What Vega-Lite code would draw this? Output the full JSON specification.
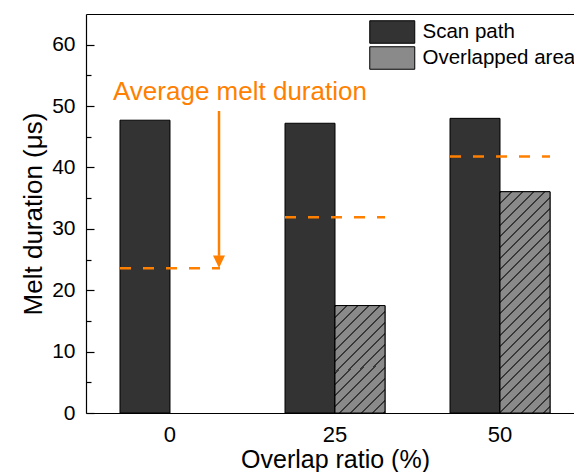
{
  "$schema": "https://vega.github.io/schema/vega-lite/v6.json",
  "width": 488,
  "height": 399,
  "autosize": {"type": "none"},
  "padding": {"left": 86, "top": 14, "right": 0, "bottom": 59},
  "background": "white",
  "config": {
    "view": {"stroke": null},
    "font": "Liberation Sans",
    "axis": {"grid": false, "domainColor": "#000", "domainWidth": 1.2, "tickColor": "#000", "tickWidth": 1.2, "labelColor": "#000", "titleColor": "#000", "titleFontWeight": "normal", "labelFont": "Liberation Sans", "titleFont": "Liberation Sans"}
  },
  "datasets": {
    "bars": [
      {"ratio": "0", "series": "Scan path", "value": 47.7},
      {"ratio": "25", "series": "Scan path", "value": 47.2},
      {"ratio": "50", "series": "Scan path", "value": 48.0},
      {"ratio": "25", "series": "Overlapped area", "value": 17.5},
      {"ratio": "50", "series": "Overlapped area", "value": 36.05}
    ],
    "avg": [
      {"ratio": "0", "avg": 23.6},
      {"ratio": "25", "avg": 31.9},
      {"ratio": "50", "avg": 41.8}
    ],
    "annot": [
      {"ratio": "0", "from": 49.2, "to": 25.6, "tip": 24.7, "labelY": 52.3, "label": "Average melt duration"}
    ]
  },
  "resolve": {"axis": {"x": "independent", "y": "independent"}},
  "layer": [
    {
      "data": {"name": "bars"},
      "mark": {"type": "bar", "stroke": "#000", "strokeWidth": 1},
      "encoding": {
        "x": {"field": "ratio", "type": "ordinal", "scale": {"domain": ["0", "25", "50"], "range": [0, 498], "paddingInner": 0.39394, "paddingOuter": 0.20606},
              "axis": {"orient": "bottom", "title": "Overlap ratio (%)", "ticks": false, "labelAngle": 0, "labelFontSize": 22, "labelPadding": 11.5, "titleFontSize": 25, "titlePadding": 2}},
        "xOffset": {"field": "series", "type": "nominal", "scale": {"domain": ["Scan path", "Overlapped area"], "paddingInner": 0, "paddingOuter": 0}},
        "y": {"field": "value", "type": "quantitative", "title": "Melt duration (μs)", "scale": {"domain": [0, 65], "nice": false},
              "axis": {"orient": "left", "values": [0, 10, 20, 30, 40, 50, 60], "ticks": false, "grid": true, "gridColor": "#000", "gridWidth": 1.2, "gridOpacity": 1, "gridDash": [8, 1000], "labelPadding": 11, "labelFontSize": 21, "titleFontSize": 26, "titlePadding": 5}},
        "fill": {"field": "series", "type": "nominal", "scale": {"domain": ["Scan path", "Overlapped area"], "range": ["#333333", "#8a8a8a"]},
                 "legend": {"title": null, "orient": "none", "legendX": 283, "legendY": 6, "padding": 0, "symbolType": "M-1,-1H3V1H-1Z", "symbolSize": 506.25, "symbolStrokeColor": "#000", "symbolStrokeWidth": 1, "symbolOpacity": 1, "labelFont": "Liberation Sans", "labelFontSize": 20.5, "labelColor": "#000", "labelOffset": 29.5, "rowPadding": -2.5}}
      }
    },
    {
      "data": {"name": "bars"},
      "transform": [{"filter": "datum.series === 'Overlapped area' && datum.ratio === '25'"}],
      "mark": {"type": "bar", "stroke": "#000", "strokeWidth": 1, "fill": {"gradient": "linear", "x1": 0, "y1": 0, "x2": 0.5638, "y2": 1.2042, "stops": [
        {"offset": 0, "color": "#383838"}, {"offset": 0.0128, "color": "#383838"}, {"offset": 0.0128, "color": "#8a8a8a"}, {"offset": 0.0702, "color": "#8a8a8a"},
        {"offset": 0.0702, "color": "#383838"}, {"offset": 0.083, "color": "#383838"}, {"offset": 0.083, "color": "#8a8a8a"}, {"offset": 0.1404, "color": "#8a8a8a"},
        {"offset": 0.1404, "color": "#383838"}, {"offset": 0.1532, "color": "#383838"}, {"offset": 0.1532, "color": "#8a8a8a"}, {"offset": 0.2106, "color": "#8a8a8a"},
        {"offset": 0.2106, "color": "#383838"}, {"offset": 0.2234, "color": "#383838"}, {"offset": 0.2234, "color": "#8a8a8a"}, {"offset": 0.2808, "color": "#8a8a8a"},
        {"offset": 0.2808, "color": "#383838"}, {"offset": 0.2936, "color": "#383838"}, {"offset": 0.2936, "color": "#8a8a8a"}, {"offset": 0.351, "color": "#8a8a8a"},
        {"offset": 0.351, "color": "#383838"}, {"offset": 0.3638, "color": "#383838"}, {"offset": 0.3638, "color": "#8a8a8a"}, {"offset": 0.4212, "color": "#8a8a8a"},
        {"offset": 0.4212, "color": "#383838"}, {"offset": 0.434, "color": "#383838"}, {"offset": 0.434, "color": "#8a8a8a"}, {"offset": 0.4914, "color": "#8a8a8a"},
        {"offset": 0.4914, "color": "#383838"}, {"offset": 0.5042, "color": "#383838"}, {"offset": 0.5042, "color": "#8a8a8a"}, {"offset": 0.5616, "color": "#8a8a8a"},
        {"offset": 0.5616, "color": "#383838"}, {"offset": 0.5744, "color": "#383838"}, {"offset": 0.5744, "color": "#8a8a8a"}, {"offset": 0.6318, "color": "#8a8a8a"},
        {"offset": 0.6318, "color": "#383838"}, {"offset": 0.6446, "color": "#383838"}, {"offset": 0.6446, "color": "#8a8a8a"}, {"offset": 0.702, "color": "#8a8a8a"},
        {"offset": 0.702, "color": "#383838"}, {"offset": 0.7148, "color": "#383838"}, {"offset": 0.7148, "color": "#8a8a8a"}, {"offset": 0.7722, "color": "#8a8a8a"},
        {"offset": 0.7722, "color": "#383838"}, {"offset": 0.785, "color": "#383838"}, {"offset": 0.785, "color": "#8a8a8a"}, {"offset": 0.8424, "color": "#8a8a8a"},
        {"offset": 0.8424, "color": "#383838"}, {"offset": 0.8552, "color": "#383838"}, {"offset": 0.8552, "color": "#8a8a8a"}, {"offset": 0.9126, "color": "#8a8a8a"},
        {"offset": 0.9126, "color": "#383838"}, {"offset": 0.9254, "color": "#383838"}, {"offset": 0.9254, "color": "#8a8a8a"}, {"offset": 0.9828, "color": "#8a8a8a"},
        {"offset": 0.9828, "color": "#383838"}, {"offset": 0.9956, "color": "#383838"}, {"offset": 0.9956, "color": "#8a8a8a"}, {"offset": 1, "color": "#8a8a8a"}
      ]}},
      "encoding": {
        "x": {"field": "ratio", "type": "ordinal", "axis": null},
        "xOffset": {"field": "series", "type": "nominal"},
        "y": {"field": "value", "type": "quantitative", "axis": null}
      }
    },
    {
      "data": {"name": "bars"},
      "transform": [{"filter": "datum.series === 'Overlapped area' && datum.ratio === '50'"}],
      "mark": {"type": "bar", "stroke": "#000", "strokeWidth": 1, "fill": {"gradient": "linear", "x1": 0, "y1": 0, "x2": 0.2635, "y2": 1.1664, "stops": [
        {"offset": 0, "color": "#383838"}, {"offset": 0.0074, "color": "#383838"}, {"offset": 0.0074, "color": "#8a8a8a"}, {"offset": 0.0406, "color": "#8a8a8a"},
        {"offset": 0.0406, "color": "#383838"}, {"offset": 0.048, "color": "#383838"}, {"offset": 0.048, "color": "#8a8a8a"}, {"offset": 0.0811, "color": "#8a8a8a"},
        {"offset": 0.0811, "color": "#383838"}, {"offset": 0.0885, "color": "#383838"}, {"offset": 0.0885, "color": "#8a8a8a"}, {"offset": 0.1217, "color": "#8a8a8a"},
        {"offset": 0.1217, "color": "#383838"}, {"offset": 0.1291, "color": "#383838"}, {"offset": 0.1291, "color": "#8a8a8a"}, {"offset": 0.1622, "color": "#8a8a8a"},
        {"offset": 0.1622, "color": "#383838"}, {"offset": 0.1696, "color": "#383838"}, {"offset": 0.1696, "color": "#8a8a8a"}, {"offset": 0.2028, "color": "#8a8a8a"},
        {"offset": 0.2028, "color": "#383838"}, {"offset": 0.2102, "color": "#383838"}, {"offset": 0.2102, "color": "#8a8a8a"}, {"offset": 0.2433, "color": "#8a8a8a"},
        {"offset": 0.2433, "color": "#383838"}, {"offset": 0.2507, "color": "#383838"}, {"offset": 0.2507, "color": "#8a8a8a"}, {"offset": 0.2839, "color": "#8a8a8a"},
        {"offset": 0.2839, "color": "#383838"}, {"offset": 0.2913, "color": "#383838"}, {"offset": 0.2913, "color": "#8a8a8a"}, {"offset": 0.3244, "color": "#8a8a8a"},
        {"offset": 0.3244, "color": "#383838"}, {"offset": 0.3318, "color": "#383838"}, {"offset": 0.3318, "color": "#8a8a8a"}, {"offset": 0.365, "color": "#8a8a8a"},
        {"offset": 0.365, "color": "#383838"}, {"offset": 0.3724, "color": "#383838"}, {"offset": 0.3724, "color": "#8a8a8a"}, {"offset": 0.4055, "color": "#8a8a8a"},
        {"offset": 0.4055, "color": "#383838"}, {"offset": 0.4129, "color": "#383838"}, {"offset": 0.4129, "color": "#8a8a8a"}, {"offset": 0.4461, "color": "#8a8a8a"},
        {"offset": 0.4461, "color": "#383838"}, {"offset": 0.4535, "color": "#383838"}, {"offset": 0.4535, "color": "#8a8a8a"}, {"offset": 0.4866, "color": "#8a8a8a"},
        {"offset": 0.4866, "color": "#383838"}, {"offset": 0.494, "color": "#383838"}, {"offset": 0.494, "color": "#8a8a8a"}, {"offset": 0.5272, "color": "#8a8a8a"},
        {"offset": 0.5272, "color": "#383838"}, {"offset": 0.5346, "color": "#383838"}, {"offset": 0.5346, "color": "#8a8a8a"}, {"offset": 0.5677, "color": "#8a8a8a"},
        {"offset": 0.5677, "color": "#383838"}, {"offset": 0.5751, "color": "#383838"}, {"offset": 0.5751, "color": "#8a8a8a"}, {"offset": 0.6083, "color": "#8a8a8a"},
        {"offset": 0.6083, "color": "#383838"}, {"offset": 0.6157, "color": "#383838"}, {"offset": 0.6157, "color": "#8a8a8a"}, {"offset": 0.6488, "color": "#8a8a8a"},
        {"offset": 0.6488, "color": "#383838"}, {"offset": 0.6562, "color": "#383838"}, {"offset": 0.6562, "color": "#8a8a8a"}, {"offset": 0.6894, "color": "#8a8a8a"},
        {"offset": 0.6894, "color": "#383838"}, {"offset": 0.6968, "color": "#383838"}, {"offset": 0.6968, "color": "#8a8a8a"}, {"offset": 0.7299, "color": "#8a8a8a"},
        {"offset": 0.7299, "color": "#383838"}, {"offset": 0.7373, "color": "#383838"}, {"offset": 0.7373, "color": "#8a8a8a"}, {"offset": 0.7705, "color": "#8a8a8a"},
        {"offset": 0.7705, "color": "#383838"}, {"offset": 0.7779, "color": "#383838"}, {"offset": 0.7779, "color": "#8a8a8a"}, {"offset": 0.811, "color": "#8a8a8a"},
        {"offset": 0.811, "color": "#383838"}, {"offset": 0.8184, "color": "#383838"}, {"offset": 0.8184, "color": "#8a8a8a"}, {"offset": 0.8516, "color": "#8a8a8a"},
        {"offset": 0.8516, "color": "#383838"}, {"offset": 0.859, "color": "#383838"}, {"offset": 0.859, "color": "#8a8a8a"}, {"offset": 0.8921, "color": "#8a8a8a"},
        {"offset": 0.8921, "color": "#383838"}, {"offset": 0.8995, "color": "#383838"}, {"offset": 0.8995, "color": "#8a8a8a"}, {"offset": 0.9327, "color": "#8a8a8a"},
        {"offset": 0.9327, "color": "#383838"}, {"offset": 0.9401, "color": "#383838"}, {"offset": 0.9401, "color": "#8a8a8a"}, {"offset": 0.9732, "color": "#8a8a8a"},
        {"offset": 0.9732, "color": "#383838"}, {"offset": 0.9806, "color": "#383838"}, {"offset": 0.9806, "color": "#8a8a8a"}, {"offset": 1, "color": "#8a8a8a"}
      ]}},
      "encoding": {
        "x": {"field": "ratio", "type": "ordinal", "axis": null},
        "xOffset": {"field": "series", "type": "nominal"},
        "y": {"field": "value", "type": "quantitative", "axis": null}
      }
    },
    {
      "data": {"name": "avg"},
      "mark": {"type": "rule", "color": "#ff8000", "strokeWidth": 2.5, "strokeDash": [11, 12]},
      "encoding": {
        "x": {"field": "ratio", "type": "ordinal", "bandPosition": 0, "axis": {"orient": "top", "title": null, "labels": false, "ticks": false}},
        "x2": {"field": "ratio", "bandPosition": 1},
        "y": {"field": "avg", "type": "quantitative", "axis": {"orient": "left", "title": null, "values": [5, 15, 25, 35, 45, 55], "labels": false, "ticks": false, "domain": false, "grid": true, "gridColor": "#000", "gridWidth": 1.2, "gridOpacity": 1, "gridDash": [5, 1000]}}
      }
    },
    {
      "data": {"name": "annot"},
      "mark": {"type": "rule", "color": "#ff8000", "strokeWidth": 2.5},
      "encoding": {
        "x": {"field": "ratio", "type": "ordinal", "bandPosition": 0.99, "axis": null},
        "y": {"field": "from", "type": "quantitative", "axis": null},
        "y2": {"field": "to"}
      }
    },
    {
      "data": {"name": "annot"},
      "mark": {"type": "point", "shape": "M-1,-1L1,-1L0,1.1Z", "size": 144, "filled": true, "color": "#ff8000", "opacity": 1, "strokeWidth": 0},
      "encoding": {
        "x": {"field": "ratio", "type": "ordinal", "bandPosition": 0.99, "axis": null},
        "y": {"field": "tip", "type": "quantitative", "axis": null}
      }
    },
    {
      "data": {"name": "annot"},
      "mark": {"type": "text", "align": "left", "baseline": "middle", "dx": -7, "fontSize": 26, "font": "Liberation Sans", "color": "#ff8000"},
      "encoding": {
        "x": {"field": "ratio", "type": "ordinal", "bandPosition": 0, "axis": null},
        "y": {"field": "labelY", "type": "quantitative", "axis": null},
        "text": {"field": "label"}
      }
    }
  ]
}
